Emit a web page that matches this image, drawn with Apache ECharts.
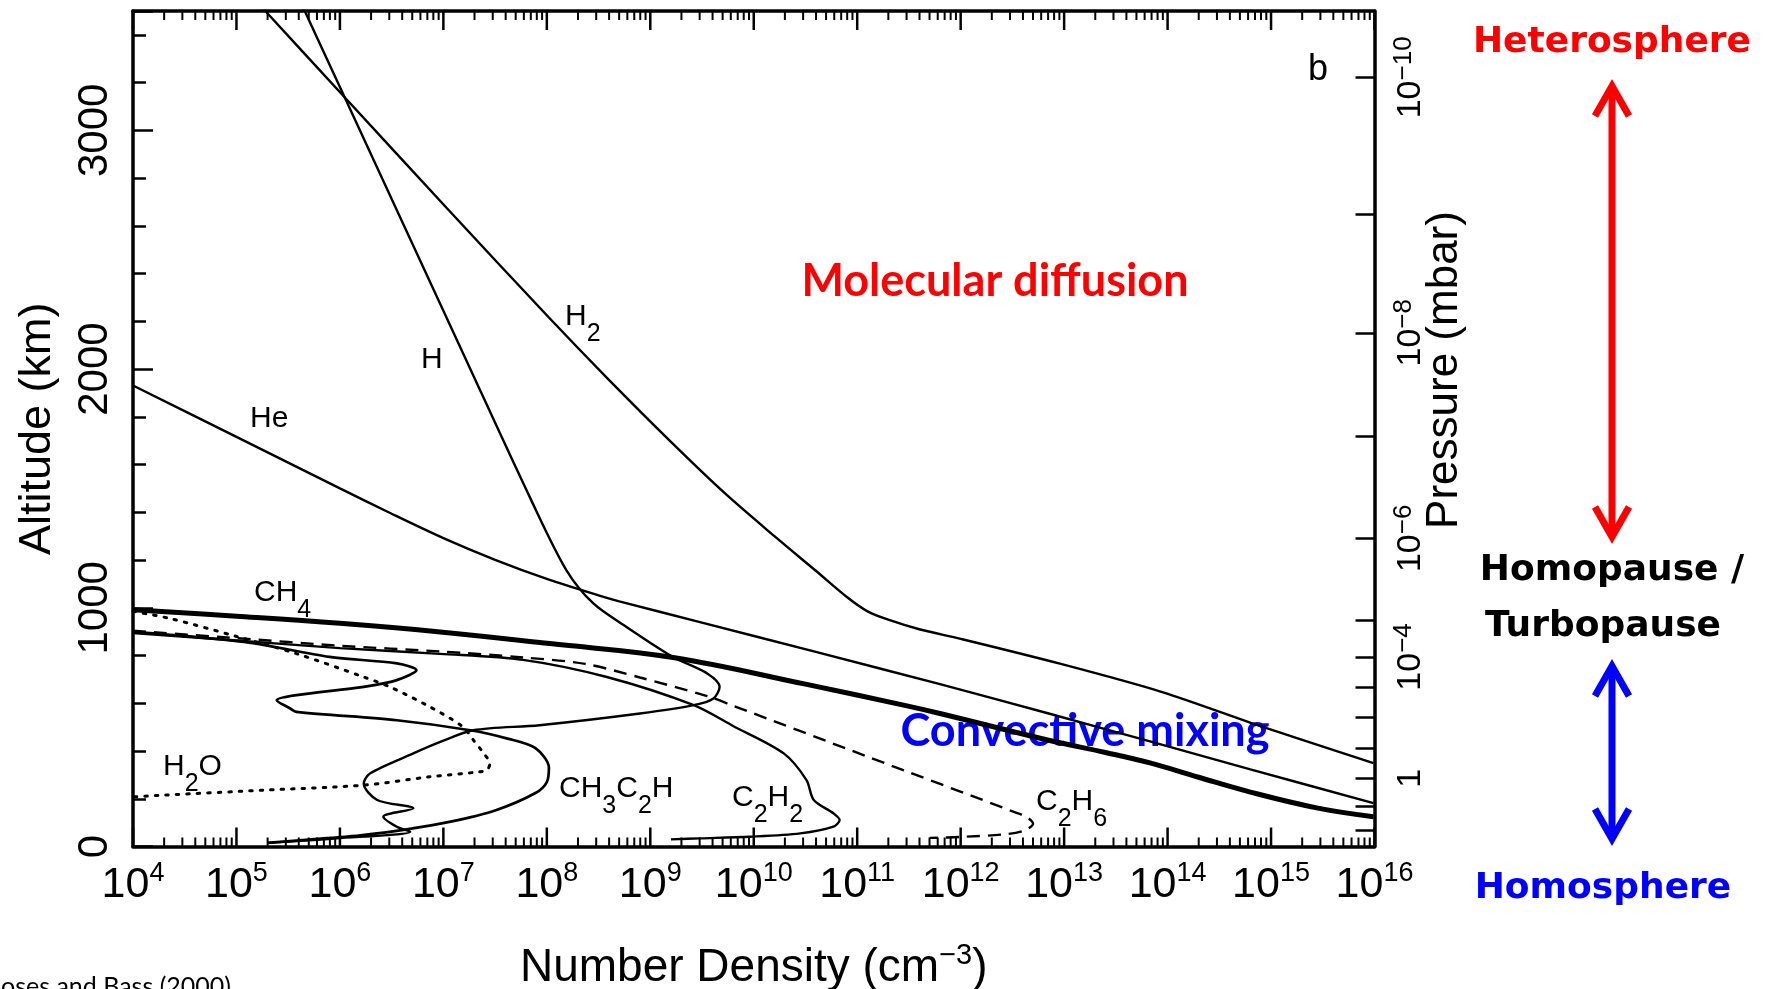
<!DOCTYPE html>
<html>
<head>
<meta charset="utf-8">
<title>Number density profiles</title>
<script src="https://cdn.jsdelivr.net/npm/echarts@6/dist/echarts.min.js"></script>
<style>
  html, body { margin: 0; padding: 0; background: #ffffff; }
  #chart { width: 1765px; height: 989px; }
</style>
</head>
<body>
<div id="chart"></div>
<script>
// ---------------- Profiles: log10 number density (cm^-3) vs altitude (km) ----------------
const h2LogN = [5.20, 5.29, 6.03, 7.03, 8.02, 8.60, 9.20, 9.72, 10.20, 10.60, 10.90, 11.10, 11.30, 11.60, 12.00, 12.95, 13.94, 14.92, 15.99];
const h2Alt  = [3540, 3495, 3146, 2676, 2216, 1955, 1695, 1480, 1300, 1155, 1045, 985, 950, 910, 870, 767, 648, 501, 349];

const hLogN = [5.62, 5.66, 6.04, 7.20, 7.85, 8.19, 8.45, 8.77, 9.22, 9.55, 9.67, 9.61, 9.42, 8.90, 7.93, 7.29, 6.97, 6.71, 6.29, 6.23, 6.36, 6.71, 6.42, 6.55, 6.68, 5.97, 5.30];
const hAlt  = [3540, 3500, 3144, 2057, 1450, 1157, 1018, 920, 794, 725, 669, 620, 592, 557, 508, 487, 438, 390, 306, 264, 195, 160, 125, 83, 62, 34, 15];

const heLogN = [4.00, 5.00, 6.00, 6.50, 7.00, 7.50, 8.00, 8.50, 8.70, 9.48, 10.60, 11.80, 12.86, 13.83, 14.80, 15.99];
const heAlt  = [1931, 1716, 1500, 1394, 1292, 1201, 1121, 1052, 1027, 940, 815, 680, 556, 440, 323, 182];

const ch4LogN = [4.00, 5.00, 6.00, 6.97, 8.03, 9.22, 10.50, 11.47, 11.80, 12.86, 13.40, 13.83, 14.30, 14.80, 15.44, 15.99];
const ch4Alt  = [992, 965, 935, 899, 850, 792, 680, 590, 557, 444, 394, 350, 290, 228, 162, 125];

const c2h6LogN = [4.00, 5.00, 6.00, 6.97, 7.77, 8.37, 8.90, 9.55, 9.80, 11.09, 12.54, 12.65, 12.70, 12.62, 12.45, 12.00, 11.70];
const c2h6Alt  = [904, 873, 841, 817, 792, 765, 708, 630, 590, 378, 141, 120, 95, 68, 52, 40, 36];

const c2h2LogN = [4.00, 5.00, 6.00, 6.97, 7.77, 8.58, 9.42, 9.80, 10.29, 10.51, 10.58, 10.77, 10.83, 10.77, 10.45, 9.96, 9.48, 9.20];
const c2h2Alt  = [894, 863, 831, 807, 782, 710, 592, 505, 390, 278, 195, 139, 111, 83, 55, 41, 34, 30];

const ch3c2hLogN = [4.00, 4.60, 5.16, 5.90, 6.55, 6.74, 6.55, 6.23, 5.58, 5.39, 5.52, 5.58, 6.55, 7.26, 7.62, 7.89, 8.02, 8.00, 7.89, 7.50, 7.07, 6.63, 6.20, 5.90, 5.30];
const ch3c2hAlt  = [899, 878, 852, 794, 767, 739, 697, 669, 634, 613, 578, 564, 529, 487, 452, 412, 330, 270, 224, 151, 104, 71, 47, 36, 15];

const h2oLogN = [4.00, 4.36, 5.00, 5.58, 6.23, 6.48, 6.87, 7.19, 7.29, 7.39, 7.45, 7.42, 7.35, 6.87, 6.23, 5.26, 4.29, 4.00];
const h2oAlt  = [985, 955, 880, 808, 710, 669, 585, 501, 446, 390, 348, 320, 313, 292, 257, 236, 215, 208];

// ---------------- Axis ticks ----------------
const densityDecades = [4, 5, 6, 7, 8, 9, 10, 11, 12, 13, 14, 15, 16];
const minorMultipliers = [2, 3, 4, 5, 6, 7, 8, 9];
const altitudeRange = [0, 3500];
// pressure levels (mbar, as powers of ten) and the altitude at which each sits
const pressureExp = [-10, -9, -8, -7, -6, -5, -4, -3, -2, -1, 0, 1, 2];
const pressureAlt = [3222, 2647, 2152, 1719, 1291, 948, 794, 666, 541, 411, 286, 167, 69];
const pressureLabelExp = [-10, -8, -6, -4, 0];

// ---------------- Text ----------------
const speciesNames = ['H2', 'H', 'He', 'CH4', 'H2O', 'CH3C2H', 'C2H2', 'C2H6'];

// ---------------- Build ----------------
const narrow = "'Liberation Sans Narrow', 'Liberation Sans', Arial, sans-serif";
const helv = "'Liberation Sans', Arial, sans-serif";
const MINUS = '\u2212';

const toPairs = (logN, alt) => logN.map((e, i) => [Math.pow(10, e), alt[i]]);

const minorTicks = [];
densityDecades.slice(0, -1).forEach(e => minorMultipliers.forEach(m => minorTicks.push([m * Math.pow(10, e), 0])));
const majorTicks = densityDecades.map(e => [Math.pow(10, e), 0]);

const pressureLabelAlt = pressureLabelExp.map(e => pressureAlt[pressureExp.indexOf(e)]);

function chem(s) {
  return s.replace(/([A-Za-z]+)|(\d+)/g, (m, a, d) => a ? '{n|' + a + '}' : '{s|' + d + '}');
}

function profile(name, logN, alt, style, smooth) {
  return {
    type: 'line', name: name, data: toPairs(logN, alt),
    xAxisIndex: 0, yAxisIndex: 0, symbol: 'none', smooth: smooth,
    silent: true, z: 3, animation: false,
    lineStyle: Object.assign({ color: '#000', width: 2.4 }, style)
  };
}

// ticks on the bottom and top frame edges, placed through the density scale
function frameTicks(name, data, len, width) {
  return {
    type: 'custom', name: name, silent: true, clip: false, z: 5,
    xAxisIndex: 0, yAxisIndex: 0, data: data, encode: { x: 0, y: 1 },
    renderItem: function (params, api) {
      const v = api.value(0);
      const b = api.coord([v, altitudeRange[0]]);
      const t = api.coord([v, altitudeRange[1]]);
      const st = { stroke: '#000', lineWidth: width };
      return {
        type: 'group', children: [
          { type: 'line', shape: { x1: b[0], y1: b[1], x2: b[0], y2: b[1] - len }, style: st },
          { type: 'line', shape: { x1: t[0], y1: t[1], x2: t[0], y2: t[1] + len }, style: st }
        ]
      };
    }
  };
}

// label anchors (pixel layout)
const labelLayout = {
  H2: [565, 317], H: [421, 360], He: [250, 419], CH4: [254, 593], H2O: [163, 767],
  CH3C2H: [559, 789], C2H2: [732, 798], C2H6: [1036, 802]
};

const chemRich = {
  n: { fontSize: 30, lineHeight: 60, fontFamily: helv, fill: '#000' },
  s: { fontSize: 25, lineHeight: 34, fontFamily: helv, fill: '#000', verticalAlign: 'bottom' }
};

const graphics = [];
speciesNames.forEach(nm => {
  const p = labelLayout[nm];
  graphics.push({
    type: 'text', x: p[0], y: p[1], z: 10, silent: true,
    style: { text: chem(nm), rich: chemRich, align: 'left', verticalAlign: 'middle',
             textAlign: 'left', textVerticalAlign: 'middle', fill: '#000', font: '30px ' + helv }
  });
});

function txt(t, x, y, font, color, z) {
  return { type: 'text', x: x, y: y, z: z == null ? 1 : z, silent: true,
           style: { text: t, font: font, fill: color, align: 'center', verticalAlign: 'middle',
                    textAlign: 'center', textVerticalAlign: 'middle' } };
}

graphics.push(txt('b', 1318, 70, '36px ' + helv, '#000', 10));
graphics.push(txt('Molecular diffusion', 995, 281, 'bold 45px Lato', '#ff0000', 1));
graphics.push(txt('Convective mixing', 1085, 731, 'bold 45px Lato', '#0000ff', 1));
graphics.push(txt('Heterosphere', 1612, 43, 'bold 36px "DejaVu Sans"', '#ff0000', 10));
graphics.push(txt('Homopause /', 1612, 571, 'bold 36px "DejaVu Sans"', '#000000', 10));
graphics.push(txt('Turbopause', 1603, 627, 'bold 36px "DejaVu Sans"', '#000000', 10));
graphics.push(txt('Homosphere', 1603, 889, 'bold 36px "DejaVu Sans"', '#0000ff', 10));

// right-hand axis title
graphics.push({
  type: 'text', x: 1445, y: 370, rotation: Math.PI / 2, z: 10, silent: true,
  style: { text: 'Pressure (mbar)', font: '44px ' + helv, fill: '#000', align: 'center', verticalAlign: 'middle',
           textAlign: 'center', textVerticalAlign: 'middle' }
});

// source note
graphics.push({
  type: 'text', x: 231, y: 999, z: 10, silent: true,
  style: { text: 'Moses and Bass (2000)', font: '25px Lato', fill: '#000', align: 'right', verticalAlign: 'bottom',
           textAlign: 'right', textVerticalAlign: 'bottom' }
});

// double-headed arrows
function arrow(x, yTop, yBot, color) {
  const w = 7, hx = 17, hy = 30, inset = 6;
  const st = { stroke: color, lineWidth: w, fill: null, lineJoin: 'miter', lineCap: 'butt' };
  return [
    { type: 'line', z: 10, silent: true, shape: { x1: x, y1: yTop + inset, x2: x, y2: yBot - inset }, style: st },
    { type: 'polyline', z: 10, silent: true,
      shape: { points: [[x - hx, yTop + inset + hy], [x, yTop + inset], [x + hx, yTop + inset + hy]] }, style: st },
    { type: 'polyline', z: 10, silent: true,
      shape: { points: [[x - hx, yBot - inset - hy], [x, yBot - inset], [x + hx, yBot - inset - hy]] }, style: st }
  ];
}
arrow(1612, 80, 543, '#ff0000').forEach(g => graphics.push(g));
arrow(1612, 660, 845, '#0000ff').forEach(g => graphics.push(g));

const axisLineStyle = { color: '#000', width: 3.5 };
const tickLine = { color: '#000', width: 2.5 };

const option = {
  animation: false,
  backgroundColor: '#ffffff',
  grid: { left: 133, right: 390.5, top: 11, bottom: 142.5, containLabel: false, outerBoundsMode: 'none' },
  xAxis: [
    {
      type: 'log', logBase: 10, min: 1e4, max: 1e16, splitNumber: 12, interval: 1, position: 'bottom',
      axisLine: { show: true, onZero: false, lineStyle: axisLineStyle },
      axisTick: { show: false },
      splitLine: { show: false },
      axisLabel: {
        show: true, margin: 14, interval: 0, showMinLabel: true, showMaxLabel: true, hideOverlap: false,
        customValues: densityDecades.map(e => Math.pow(10, e)),
        formatter: v => '{b|10}{s|' + Math.round(Math.log10(v)) + '}',
        rich: {
          b: { fontSize: 43, lineHeight: 50, fontFamily: narrow, color: '#000' },
          s: { fontSize: 27, lineHeight: 32, fontFamily: narrow, color: '#000', verticalAlign: 'top' }
        }
      },
      name: '{n|Number Density (cm}{s|' + MINUS + '3}{n|)}',
      nameLocation: 'middle', nameGap: 95, nameMoveOverlap: false,
      nameTextStyle: {
        rich: {
          n: { fontSize: 46, lineHeight: 54, fontFamily: helv, color: '#000' },
          s: { fontSize: 29, lineHeight: 30, fontFamily: helv, color: '#000', verticalAlign: 'top' }
        }
      }
    },
    {
      type: 'log', logBase: 10, min: 1e4, max: 1e16, splitNumber: 12, interval: 1, position: 'top',
      axisLine: { show: true, onZero: false, lineStyle: axisLineStyle },
      axisTick: { show: false },
      splitLine: { show: false },
      axisLabel: { show: false }
    }
  ],
  yAxis: [
    {
      type: 'value', min: altitudeRange[0], max: altitudeRange[1], interval: 200, position: 'left',
      axisLine: { show: true, onZero: false, lineStyle: axisLineStyle },
      axisTick: { show: true, inside: true, length: 13, lineStyle: tickLine },
      splitLine: { show: false },
      axisLabel: {
        rotate: 90, margin: 17, showMinLabel: true, showMaxLabel: true, hideOverlap: false,
        formatter: v => (v % 1000 === 0 ? String(v) : ''),
        fontSize: 42, fontFamily: helv, color: '#000'
      },
      name: 'Altitude (km)', nameLocation: 'middle', nameGap: 73, nameMoveOverlap: false,
      nameTextStyle: { fontSize: 45, fontFamily: helv, color: '#000' }
    },
    {
      type: 'value', min: altitudeRange[0], max: altitudeRange[1], interval: 1000, position: 'left',
      axisLine: { show: false, onZero: false },
      axisTick: { show: true, inside: true, length: 20, lineStyle: tickLine },
      splitLine: { show: false },
      axisLabel: { show: false }
    },
    {
      type: 'value', min: altitudeRange[0], max: altitudeRange[1], position: 'right',
      axisLine: { show: true, onZero: false, lineStyle: axisLineStyle },
      axisTick: { show: true, inside: true, length: 19, lineStyle: tickLine, customValues: pressureAlt },
      splitLine: { show: false },
      axisLabel: {
        rotate: 90, margin: 16, hideOverlap: false,
        customValues: pressureLabelAlt,
        formatter: v => {
          const e = pressureExp[pressureAlt.indexOf(v)];
          return e === 0 ? '{b|1}' : '{b|10}{s|' + MINUS + Math.abs(e) + '}';
        },
        rich: {
          b: { fontSize: 34, lineHeight: 40, fontFamily: narrow, color: '#000' },
          s: { fontSize: 26, lineHeight: 28, fontFamily: narrow, color: '#000', verticalAlign: 'top' }
        }
      }
    }
  ],
  series: [
    profile('H2', h2LogN, h2Alt, {}, 0.3),
    profile('H', hLogN, hAlt, {}, 0.3),
    profile('He', heLogN, heAlt, {}, 0.3),
    profile('CH4', ch4LogN, ch4Alt, { width: 5 }, 0.4),
    profile('C2H6', c2h6LogN, c2h6Alt, { type: [13, 8] }, 0.3),
    profile('C2H2', c2h2LogN, c2h2Alt, {}, 0.3),
    profile('CH3C2H', ch3c2hLogN, ch3c2hAlt, { width: 2.7 }, 0.3),
    profile('H2O', h2oLogN, h2oAlt, { type: [2.5, 8], width: 3, cap: 'round' }, 0.3),
    frameTicks('minor ticks', minorTicks, 9, 2),
    frameTicks('major ticks', majorTicks, 19, 2.5)
  ],
  graphic: { elements: graphics }
};

const chart = echarts.init(document.getElementById('chart'), null, { renderer: 'canvas' });
chart.setOption(option);
</script>
</body>
</html>
